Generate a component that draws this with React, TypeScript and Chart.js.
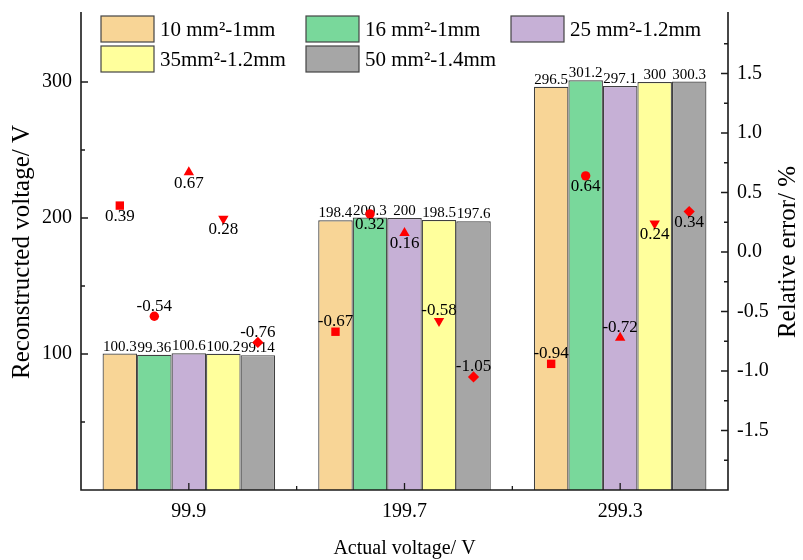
import React, { useEffect, useRef } from 'react';
import { Chart, registerables } from 'chart.js';

Chart.register(...registerables);

// ---------- data ----------
const categories = ['99.9', '199.7', '299.3'];
const seriesNames = ['10 mm²-1mm', '16 mm²-1mm', '25 mm²-1.2mm', '35mm²-1.2mm', '50 mm²-1.4mm'];
const volt10 = [100.3, 198.4, 296.5];
const volt16 = [99.36, 200.3, 301.2];
const volt25 = [100.6, 200, 297.1];
const volt35 = [100.2, 198.5, 300];
const volt50 = [99.14, 197.6, 300.3];
const err10 = [0.39, -0.67, -0.94];
const err16 = [-0.54, 0.32, 0.64];
const err25 = [0.67, 0.16, -0.72];
const err35 = [0.28, -0.58, 0.24];
const err50 = [-0.76, -1.05, 0.34];
const leftTickLabels = [100, 200, 300];
const rightTickLabels = [-1.5, -1.0, -0.5, 0.0, 0.5, 1.0, 1.5];

// ---------- styles ----------
const FONT = "'Liberation Serif', 'Times New Roman', Times, serif";
const barColors = ['#F8D596', '#79D89B', '#C6B0D6', '#FFFF9C', '#A6A6A6'];
const markerShapes = ['square', 'circle', 'triangleUp', 'triangleDown', 'diamond'];
const MARKER_COLOR = '#FF0000';

const voltSeries = [volt10, volt16, volt25, volt35, volt50];
const errSeries = [err10, err16, err25, err35, err50];

function drawMarker(ctx: CanvasRenderingContext2D, shape: string, x: number, y: number) {
  ctx.beginPath();
  if (shape === 'square') {
    ctx.rect(x - 4.2, y - 4.2, 8.4, 8.4);
  } else if (shape === 'circle') {
    ctx.arc(x, y, 4.7, 0, Math.PI * 2);
  } else if (shape === 'triangleUp' || shape === 'triangleDown') {
    const r = 6;
    const d = shape === 'triangleUp' ? 1 : -1;
    ctx.moveTo(x, y - d * r);
    ctx.lineTo(x + r * 0.866, y + d * r * 0.5);
    ctx.lineTo(x - r * 0.866, y + d * r * 0.5);
    ctx.closePath();
  } else {
    const r = 5.6;
    ctx.moveTo(x, y - r);
    ctx.lineTo(x + r, y);
    ctx.lineTo(x, y + r);
    ctx.lineTo(x - r, y);
    ctx.closePath();
  }
  ctx.fill();
}

const decorPlugin: any = {
  id: 'decor',
  afterDatasetsDraw(chart: any) {
    const ctx = chart.ctx;
    const { left, right, top, bottom } = chart.chartArea;
    const xs = chart.scales.x;
    const ys = chart.scales.y;
    const y1 = chart.scales.y1;
    ctx.save();

    // value labels above bars
    ctx.font = `15px ${FONT}`;
    ctx.fillStyle = '#000';
    ctx.textAlign = 'center';
    ctx.textBaseline = 'alphabetic';
    for (let d = 0; d < voltSeries.length; d++) {
      const meta = chart.getDatasetMeta(d);
      meta.data.forEach((el: any, i: number) => {
        ctx.fillText(String(voltSeries[d][i]), el.x, el.y - 3);
      });
    }

    // relative-error markers (right axis) at the centre of each bar, with labels
    for (let s = 0; s < errSeries.length; s++) {
      const meta = chart.getDatasetMeta(s);
      meta.data.forEach((el: any, i: number) => {
        const v = errSeries[s][i];
        const py = y1.getPixelForValue(v);
        ctx.fillStyle = MARKER_COLOR;
        drawMarker(ctx, markerShapes[s], el.x, py);
        ctx.fillStyle = '#000';
        ctx.font = `17px ${FONT}`;
        ctx.textBaseline = 'middle';
        ctx.fillText(v.toFixed(2), el.x, py + (v >= 0 ? 11 : -10));
      });
    }

    // axes lines
    ctx.strokeStyle = '#1a1a1a';
    ctx.lineWidth = 1.6;
    ctx.beginPath();
    ctx.moveTo(left, top - 2);
    ctx.lineTo(left, bottom);
    ctx.lineTo(right, bottom);
    ctx.lineTo(right, top - 2);
    ctx.stroke();

    // inward ticks
    ctx.lineWidth = 1.3;
    ctx.beginPath();
    ys.ticks.forEach((t: any) => {
      if (t.value <= ys.min || t.value >= ys.max) return;
      const py = ys.getPixelForValue(t.value);
      const len = t.label !== '' ? 7 : 4;
      ctx.moveTo(left, py);
      ctx.lineTo(left + len, py);
    });
    y1.ticks.forEach((t: any) => {
      if (t.value <= y1.min || t.value >= y1.max) return;
      const py = y1.getPixelForValue(t.value);
      const len = t.label !== '' ? 7 : 4;
      ctx.moveTo(right, py);
      ctx.lineTo(right - len, py);
    });
    for (let i = 0; i < categories.length; i++) {
      const px = xs.getPixelForValue(i);
      ctx.moveTo(px, bottom);
      ctx.lineTo(px, bottom - 7);
      if (i < categories.length - 1) {
        const pb = (px + xs.getPixelForValue(i + 1)) / 2;
        ctx.moveTo(pb, bottom);
        ctx.lineTo(pb, bottom - 4);
      }
    }
    ctx.stroke();

    // legend (inside plot, 3 columns x 2 rows)
    const colOffsets = [20, 225, 430];
    const rowOffsets = [2, 32];
    const boxW = 53;
    const boxH = 26;
    ctx.font = `21px ${FONT}`;
    ctx.textAlign = 'left';
    ctx.textBaseline = 'middle';
    seriesNames.forEach((name, i) => {
      const bx = left + colOffsets[i % 3];
      const by = top + rowOffsets[Math.floor(i / 3)];
      ctx.fillStyle = barColors[i];
      ctx.fillRect(bx, by, boxW, boxH);
      ctx.strokeStyle = '#444';
      ctx.lineWidth = 1.2;
      ctx.strokeRect(bx, by, boxW, boxH);
      ctx.fillStyle = '#000';
      ctx.fillText(name, bx + boxW + 6, by + boxH / 2 + 1);
    });

    ctx.restore();
  },
  afterDraw(chart: any) {
    // right axis title, reading bottom-to-top
    const ctx = chart.ctx;
    const { right, top, bottom } = chart.chartArea;
    ctx.save();
    ctx.translate(right + 60, (top + bottom) / 2);
    ctx.rotate(-Math.PI / 2);
    ctx.font = `25px ${FONT}`;
    ctx.fillStyle = '#000';
    ctx.textAlign = 'center';
    ctx.textBaseline = 'middle';
    ctx.fillText('Relative error/ %', 0, 0);
    ctx.restore();
  },
};

export default function App() {
  const canvasRef = useRef<HTMLCanvasElement | null>(null);

  useEffect(() => {
    if (!canvasRef.current) return;
    const barSets = voltSeries.map((vals, i) => ({
      label: seriesNames[i],
      data: vals,
      backgroundColor: barColors[i],
      borderColor: '#404040',
      borderWidth: 1.2,
      categoryPercentage: 0.8,
      barPercentage: 1.0,
      yAxisID: 'y',
    }));

    const chart = new Chart(canvasRef.current, {
      type: 'bar',
      data: { labels: categories, datasets: barSets },
      options: {
        responsive: false,
        animation: false,
        devicePixelRatio: 1,
        layout: { padding: { top: 14, left: 0, right: 0, bottom: 0 } },
        plugins: { legend: { display: false }, tooltip: { enabled: false } },
        scales: {
          x: {
            type: 'category',
            offset: true,
            grid: { display: false, drawTicks: false },
            border: { display: false },
            ticks: { color: '#000', font: { family: FONT, size: 20 }, padding: 10 },
            title: {
              display: true,
              text: 'Actual voltage/ V',
              color: '#000',
              font: { family: FONT, size: 20 },
              padding: { top: 0, bottom: -1 },
            },
            afterFit: (s: any) => { s.height = 70; s.paddingLeft = 0; s.paddingRight = 0; },
          },
          y: {
            type: 'linear',
            position: 'left',
            min: 0,
            max: 350,
            grid: { display: false, drawTicks: false },
            border: { display: false },
            ticks: {
              stepSize: 50,
              autoSkip: false,
              color: '#000',
              font: { family: FONT, size: 20 },
              padding: 9,
              callback: (v: any) => (leftTickLabels.includes(Number(v)) ? String(v) : ''),
            },
            title: {
              display: true,
              text: 'Reconstructed voltage/ V',
              color: '#000',
              font: { family: FONT, size: 25 },
              padding: { top: 7, bottom: 0 },
            },
            afterFit: (s: any) => { s.width = 81; s.paddingTop = 0; s.paddingBottom = 0; },
          },
          y1: {
            type: 'linear',
            position: 'right',
            min: -2,
            max: 2,
            grid: { display: false, drawTicks: false },
            border: { display: false },
            ticks: {
              stepSize: 0.25,
              autoSkip: false,
              color: '#000',
              font: { family: FONT, size: 20 },
              padding: 9,
              callback: (v: any) => {
                const n = Number(v);
                return rightTickLabels.some((r) => Math.abs(r - n) < 1e-9) ? n.toFixed(1) : '';
              },
            },
            afterFit: (s: any) => { s.width = 75; s.paddingTop = 0; s.paddingBottom = 0; },
          },
        },
      } as any,
      plugins: [decorPlugin],
    });
    return () => chart.destroy();
  }, []);

  return (
    <div style={{ position: 'fixed', left: 0, top: 0, width: 803, height: 560, background: '#fff' }}>
      <canvas ref={canvasRef} width={803} height={560} style={{ display: 'block' }} />
    </div>
  );
}
